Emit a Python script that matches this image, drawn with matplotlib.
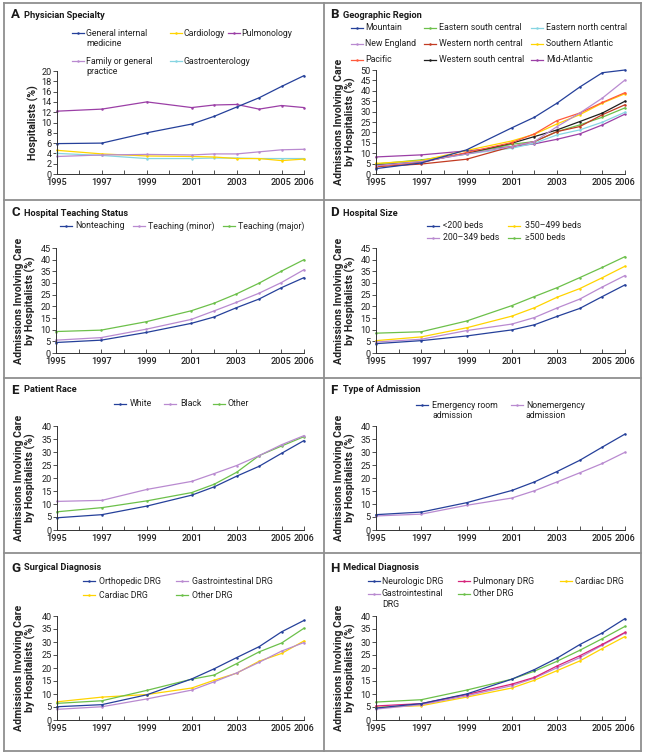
import matplotlib
matplotlib.use("Agg")
import matplotlib.pyplot as plt
from matplotlib.lines import Line2D

plt.rcParams['font.family'] = ['Roboto', 'DejaVu Sans']

W, H = 647, 755

years = [1995, 1997, 1999, 2001, 2002, 2003, 2004, 2005, 2006]
xtick_years = list(range(1995, 2007))
xtick_labels = ["1995", "", "1997", "", "1999", "", "2001", "", "2003", "", "2005", "2006"]

# Panel A: Physician specialty (% of hospitalists)
a_gim = [5.9, 6.0, 8.0, 9.7, 11.2, 13.0, 14.8, 17.0, 19.1]
a_cardio = [4.6, 3.9, 3.5, 3.4, 3.3, 3.0, 3.0, 2.6, 2.9]
a_pulm = [12.2, 12.6, 14.0, 12.9, 13.4, 13.5, 12.6, 13.3, 12.9]
a_family = [3.4, 3.7, 3.8, 3.7, 3.9, 3.9, 4.3, 4.7, 4.8]
a_gastro = [4.0, 3.6, 3.0, 3.0, 3.1, 3.1, 3.0, 3.0, 3.0]

# Panel B: Geographic region
b_mountain = [2.6, 5.3, 11.6, 22.2, 27.3, 34.1, 41.8, 48.7, 50.0]
b_esc = [4.8, 6.8, 9.6, 14.3, 15.6, 20.4, 23.6, 27.3, 31.8]
b_enc = [4.3, 6.1, 9.6, 12.4, 14.8, 18.8, 21.2, 24.9, 29.7]
b_newengland = [4.0, 6.0, 9.6, 13.2, 15.6, 22.8, 29.3, 36.5, 45.2]
b_wnc = [3.5, 4.8, 7.1, 13.2, 15.6, 20.4, 22.8, 28.5, 33.3]
b_satl = [5.1, 6.4, 11.3, 15.9, 19.1, 24.1, 28.5, 34.1, 38.6]
b_pacific = [3.9, 5.5, 10.3, 15.1, 19.3, 25.7, 29.3, 34.4, 39.1]
b_wsc = [4.2, 5.8, 10.0, 14.8, 18.0, 21.2, 25.2, 29.3, 35.0]
b_midatl = [8.2, 9.2, 11.1, 13.2, 14.5, 16.7, 19.3, 23.6, 28.8]

# Panel C: Hospital teaching status
c_non = [4.5, 5.5, 8.8, 12.7, 15.4, 19.4, 23.1, 28.0, 32.3]
c_minor = [5.5, 6.6, 10.2, 14.4, 18.0, 21.7, 25.6, 30.2, 35.7]
c_major = [9.2, 9.8, 13.4, 18.1, 21.3, 25.3, 29.9, 35.1, 40.0]

# Panel D: Hospital size
d_lt200 = [4.0, 5.3, 7.3, 9.9, 12.1, 15.7, 19.1, 24.2, 29.2]
d_200_349 = [4.7, 5.9, 9.6, 12.4, 15.2, 19.3, 23.1, 28.3, 33.2]
d_350_499 = [5.3, 6.9, 10.8, 15.8, 19.4, 23.9, 27.6, 32.3, 37.2]
d_ge500 = [8.5, 9.1, 13.7, 20.3, 24.2, 28.0, 32.3, 36.7, 41.3]

# Panel E: Patient race
e_white = [4.7, 5.9, 9.2, 13.4, 16.6, 20.7, 24.5, 29.5, 34.4]
e_black = [11.0, 11.4, 15.6, 18.7, 21.7, 24.8, 28.6, 32.8, 36.3]
e_other = [7.0, 8.6, 11.2, 14.4, 17.6, 22.2, 28.6, 32.3, 35.9]

# Panel F: Type of admission
f_er = [5.9, 6.9, 10.5, 15.2, 18.5, 22.5, 26.8, 31.9, 36.9]
f_nonem = [5.4, 6.1, 9.5, 12.3, 15.1, 18.5, 22.0, 25.6, 29.9]

# Panel G: Surgical diagnosis
g_ortho = [5.1, 5.9, 9.7, 15.8, 19.7, 24.0, 28.2, 33.9, 38.3]
g_gi = [4.1, 5.1, 8.1, 11.5, 14.7, 18.1, 22.2, 26.5, 29.8]
g_cardiac = [7.0, 8.8, 9.8, 12.3, 15.3, 18.0, 22.6, 25.6, 30.4]
g_other = [6.4, 7.4, 11.4, 15.7, 17.3, 21.7, 26.2, 29.6, 35.3]

# Panel H: Medical diagnosis
h_neuro = [4.6, 6.3, 10.0, 15.7, 19.4, 23.8, 29.0, 33.5, 39.0]
h_pulm = [5.4, 6.3, 9.8, 13.8, 16.4, 20.8, 24.7, 29.1, 33.7]
h_cardiac = [4.9, 5.5, 8.8, 12.3, 15.3, 19.0, 22.7, 27.5, 32.1]
h_gi = [4.2, 5.9, 9.3, 13.2, 16.1, 20.1, 24.0, 28.8, 33.5]
h_other = [6.9, 7.8, 11.5, 15.7, 18.8, 22.6, 26.8, 31.3, 36.0]

BLUE = '#25409a'
YELLOW = '#ffd400'
PURPLE = '#9b3fa6'
LPURPLE = '#b98ad0'
CYAN = '#86d5e2'
GREEN = '#6cc04a'
REDBROWN = '#c23b22'
PACIFIC = '#ff5a3c'
BLACK = '#1e1e1e'
MAGENTA = '#d6247a'
FRAME = '#8f8f8f'

fig = plt.figure(figsize=(W / 100, H / 100), dpi=100)


def fx(px):
    return px / W


def fy(py):
    return 1 - py / H


# panel frames
frame_lines = [
    ([4, 641], [3, 3]), ([4, 641], [751, 751]),
    ([4, 4], [3, 751]), ([641, 641], [3, 751]),
    ([324, 324], [3, 751]),
    ([4, 641], [200, 200]), ([4, 641], [378, 378]), ([4, 641], [553, 553]),
]
for xs, ys in frame_lines:
    fig.add_artist(Line2D([fx(v) for v in xs], [fy(v) for v in ys],
                          transform=fig.transFigure, color=FRAME, lw=1.3))


def make_axes(l, r, t, b, ymax, ystep, ylabel, label_x):
    ax = fig.add_axes([fx(l), fy(b), (r - l) / W, (b - t) / H])
    ax.set_xlim(1995, 2006)
    ax.set_ylim(0, ymax)
    ax.set_yticks(list(range(0, ymax + 1, ystep)))
    ax.set_xticks(xtick_years)
    ax.set_xticklabels(xtick_labels)
    for s in ['top', 'right']:
        ax.spines[s].set_visible(False)
    for s in ['left', 'bottom']:
        ax.spines[s].set_linewidth(0.7)
        ax.spines[s].set_color('#333333')
    ax.tick_params(axis='y', direction='out', length=3, width=0.6, labelsize=6.6,
                   pad=1, colors='#333333', labelcolor='#222222')
    ax.tick_params(axis='x', direction='in', length=3, width=0.6, labelsize=6.6,
                   pad=3, colors='#333333', labelcolor='#222222')
    for lab in ax.get_xticklabels():
        lab.set_fontweight('medium')
    ax.set_ylabel(ylabel, fontsize=7.6, fontweight='semibold', color='#222222',
                  linespacing=1.05, va='center')
    ax.yaxis.set_label_coords((label_x - l) / (r - l), 0.5)
    ax.patch.set_alpha(0)
    return ax


def plot(ax, ys, color, z=2):
    ax.plot(years, ys, color=color, lw=0.9, marker='o', ms=1.8, mew=0,
            clip_on=False, zorder=z)


def title(letter, text, x, y):
    fig.text(fx(x), fy(y), letter, fontsize=9.5, fontweight='bold',
             va='center', ha='left', color='#1a1a1a')
    fig.text(fx(x + 13), fy(y), text, fontsize=6.7, fontweight='bold',
             va='center', ha='left', color='#1a1a1a')


def legend_entry(color, hx, tx, y, lines):
    fig.add_artist(Line2D([fx(hx), fx(hx + 12)], [fy(y), fy(y)],
                          transform=fig.transFigure, color=color, lw=0.9))
    fig.add_artist(Line2D([fx(hx + 6)], [fy(y)], transform=fig.transFigure,
                          color=color, marker='o', ms=1.8, mew=0, lw=0))
    for i, ln in enumerate(lines):
        fig.text(fx(tx), fy(y + i * 10.5), ln, fontsize=6.3, va='center',
                 ha='left', color='#222222')


YLAB = "Admissions Involving Care\nby Hospitalists (%)"

# ---- Panel A
ax = make_axes(57, 304, 71, 174, 20, 2, "Hospitalists (%)", 33)
plot(ax, a_gastro, CYAN)
plot(ax, a_cardio, YELLOW)
plot(ax, a_family, LPURPLE)
plot(ax, a_pulm, PURPLE)
plot(ax, a_gim, BLUE)
title("A", "Physician Specialty", 11, 15)
legend_entry(BLUE, 72, 86, 33, ["General internal", "medicine"])
legend_entry(YELLOW, 170, 183, 33, ["Cardiology"])
legend_entry(PURPLE, 228, 241, 33, ["Pulmonology"])
legend_entry(LPURPLE, 72, 86, 61, ["Family or general", "practice"])
legend_entry(CYAN, 170, 183, 61, ["Gastroenterology"])

# ---- Panel B
ax = make_axes(376, 625, 70, 174, 50, 5, YLAB, 345)
plot(ax, b_midatl, PURPLE)
plot(ax, b_enc, CYAN)
plot(ax, b_esc, GREEN)
plot(ax, b_wnc, REDBROWN)
plot(ax, b_wsc, BLACK)
plot(ax, b_satl, YELLOW)
plot(ax, b_pacific, PACIFIC)
plot(ax, b_newengland, LPURPLE)
plot(ax, b_mountain, BLUE)
title("B", "Geographic Region", 330, 15)
legend_entry(BLUE, 351, 365, 28, ["Mountain"])
legend_entry(GREEN, 424, 439, 28, ["Eastern south central"])
legend_entry(CYAN, 531, 546, 28, ["Eastern north central"])
legend_entry(LPURPLE, 351, 365, 44, ["New England"])
legend_entry(REDBROWN, 424, 439, 44, ["Western north central"])
legend_entry(YELLOW, 531, 546, 44, ["Southern Atlantic"])
legend_entry(PACIFIC, 351, 365, 60, ["Pacific"])
legend_entry(BLACK, 424, 439, 60, ["Western south central"])
legend_entry(PURPLE, 531, 546, 60, ["Mid-Atlantic"])

# ---- Panel C
ax = make_axes(56, 304, 248, 353, 45, 5, YLAB, 25)
plot(ax, c_major, GREEN)
plot(ax, c_minor, LPURPLE)
plot(ax, c_non, BLUE)
title("C", "Hospital Teaching Status", 11, 213)
legend_entry(BLUE, 60, 75, 226, ["Nonteaching"])
legend_entry(LPURPLE, 133, 148, 226, ["Teaching (minor)"])
legend_entry(GREEN, 223, 238, 226, ["Teaching (major)"])

# ---- Panel D
ax = make_axes(376, 625, 248, 353, 45, 5, YLAB, 345)
plot(ax, d_ge500, GREEN)
plot(ax, d_350_499, YELLOW)
plot(ax, d_200_349, LPURPLE)
plot(ax, d_lt200, BLUE)
title("D", "Hospital Size", 330, 213)
legend_entry(BLUE, 427, 443, 226, ["<200 beds"])
legend_entry(YELLOW, 508, 525, 226, ["350\u2013499 beds"])
legend_entry(LPURPLE, 427, 443, 238, ["200\u2013349 beds"])
legend_entry(GREEN, 508, 525, 238, ["\u2265500 beds"])

# ---- Panel E
ax = make_axes(57, 304, 426, 530, 40, 5, YLAB, 25)
plot(ax, e_other, GREEN)
plot(ax, e_black, LPURPLE)
plot(ax, e_white, BLUE)
title("E", "Patient Race", 11, 390)
legend_entry(BLUE, 114, 130, 404, ["White"])
legend_entry(LPURPLE, 164, 180, 404, ["Black"])
legend_entry(GREEN, 213, 228, 404, ["Other"])

# ---- Panel F
ax = make_axes(376, 625, 426, 530, 40, 5, YLAB, 345)
plot(ax, f_nonem, LPURPLE)
plot(ax, f_er, BLUE)
title("F", "Type of Admission", 330, 390)
legend_entry(BLUE, 416, 432, 405, ["Emergency room", "admission"])
legend_entry(LPURPLE, 511, 526, 405, ["Nonemergency", "admission"])

# ---- Panel G
ax = make_axes(57, 304, 616, 720, 40, 5, YLAB, 25)
plot(ax, g_cardiac, YELLOW)
plot(ax, g_gi, LPURPLE)
plot(ax, g_other, GREEN)
plot(ax, g_ortho, BLUE)
title("G", "Surgical Diagnosis", 11, 568)
legend_entry(BLUE, 83, 99, 581, ["Orthopedic DRG"])
legend_entry(LPURPLE, 176, 192, 581, ["Gastrointestinal DRG"])
legend_entry(YELLOW, 83, 99, 595, ["Cardiac DRG"])
legend_entry(GREEN, 176, 192, 595, ["Other DRG"])

# ---- Panel H
ax = make_axes(376, 625, 616, 720, 40, 5, YLAB, 345)
plot(ax, h_cardiac, YELLOW)
plot(ax, h_gi, LPURPLE)
plot(ax, h_pulm, MAGENTA)
plot(ax, h_other, GREEN)
plot(ax, h_neuro, BLUE)
title("H", "Medical Diagnosis", 330, 568)
legend_entry(BLUE, 368, 382, 581, ["Neurologic DRG"])
legend_entry(MAGENTA, 458, 473, 581, ["Pulmonary DRG"])
legend_entry(YELLOW, 560, 575, 581, ["Cardiac DRG"])
legend_entry(LPURPLE, 368, 382, 594, ["Gastrointestinal", "DRG"])
legend_entry(GREEN, 458, 473, 594, ["Other DRG"])

fig.savefig("out.png", dpi=100)
